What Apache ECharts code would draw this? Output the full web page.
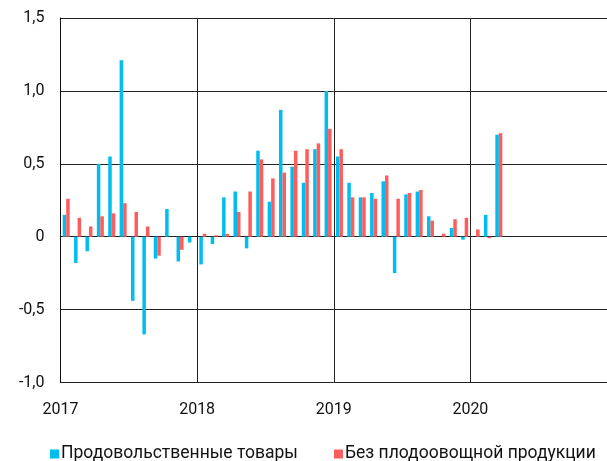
<!DOCTYPE html>
<html>
<head>
<meta charset="utf-8">
<script src="https://cdn.jsdelivr.net/npm/echarts@6/dist/echarts.min.js"></script>
<style>
  html, body { margin: 0; padding: 0; background: #fff; }
  #chart { width: 607px; height: 461px; }
</style>
</head>
<body>
<div id="chart"></div>
<script>
// Monthly price change, %, January 2017 – March 2020
const months = [];
for (let y = 2017; y <= 2020; y++) {
  for (let m = 1; m <= 12; m++) months.push(y + '-' + String(m).padStart(2, '0'));
}

const foodGoods = [
  0.15, -0.18, -0.10, 0.50, 0.55, 1.21, -0.44, -0.67, -0.15, 0.19, -0.17, -0.04,
  -0.19, -0.05, 0.27, 0.31, -0.08, 0.59, 0.24, 0.87, 0.48, 0.37, 0.60, 1.00,
  0.55, 0.37, 0.27, 0.30, 0.38, -0.25, 0.29, 0.31, 0.14, 0.00, 0.06, -0.02,
  0.00, 0.15, 0.70
];

const withoutFruitVeg = [
  0.26, 0.13, 0.07, 0.14, 0.16, 0.23, 0.17, 0.07, -0.13, 0.00, -0.09, 0.00,
  0.02, 0.01, 0.02, 0.17, 0.31, 0.53, 0.40, 0.44, 0.59, 0.60, 0.64, 0.74,
  0.60, 0.27, 0.27, 0.26, 0.42, 0.26, 0.30, 0.32, 0.11, 0.02, 0.12, 0.13,
  0.05, -0.01, 0.71
];

const seriesNames = ['Продовольственные товары', 'Без плодоовощной продукции'];
const yTicks = { min: -1, max: 1.5, step: 0.5 };
const firstYear = 2017;

const fontFamily = 'Roboto, "Noto Sans", sans-serif';
const colors = ['#00BDEF', '#FF5C5C'];

const legendBase = {
  top: 440,
  icon: 'rect',
  itemWidth: 9,
  itemHeight: 9,
  width: 320,
  textStyle: { fontSize: 17.5, color: '#111', fontFamily: fontFamily, padding: [0, 0, 0, -3] }
};

const chart = echarts.init(document.getElementById('chart'), null, { renderer: 'canvas' });

chart.setOption({
  animation: false,
  backgroundColor: '#fff',
  color: colors,
  textStyle: { fontFamily: fontFamily },
  grid: { left: 60.5, top: 18, width: 552, height: 364.5, containLabel: false },
  legend: [
    Object.assign({}, legendBase, { left: 45, data: [seriesNames[0]] }),
    Object.assign({}, legendBase, { left: 329, data: [seriesNames[1]] })
  ],
  xAxis: [
    {
      type: 'category',
      data: months,
      boundaryGap: true,
      show: false
    },
    {
      type: 'value',
      min: 0,
      max: months.length,
      interval: 12,
      position: 'bottom',
      axisLine: { show: false },
      axisTick: { show: false },
      splitLine: { show: true, lineStyle: { color: '#222', width: 1 } },
      axisLabel: {
        fontSize: 16,
        color: '#111',
        margin: 19,
        showMaxLabel: false,
        formatter: v => String(firstYear + v / 12)
      }
    }
  ],
  yAxis: {
    type: 'value',
    min: yTicks.min,
    max: yTicks.max,
    interval: yTicks.step,
    axisLine: { show: true, lineStyle: { color: '#111', width: 1 } },
    axisTick: { show: false },
    splitLine: { show: true, lineStyle: { color: '#222', width: 1 } },
    axisLabel: {
      fontSize: 16,
      color: '#111',
      margin: 16,
      formatter: v => (v === 0 ? '0' : v.toFixed(1).replace('.', ','))
    }
  },
  series: [
    {
      name: seriesNames[0],
      type: 'bar',
      xAxisIndex: 0,
      data: foodGoods,
      barWidth: 3.5,
      barGap: '0%',
      itemStyle: { color: colors[0] }
    },
    {
      name: seriesNames[1],
      type: 'bar',
      xAxisIndex: 0,
      data: withoutFruitVeg,
      barWidth: 3.5,
      barGap: '0%',
      itemStyle: { color: colors[1] }
    }
  ]
});
</script>
</body>
</html>
